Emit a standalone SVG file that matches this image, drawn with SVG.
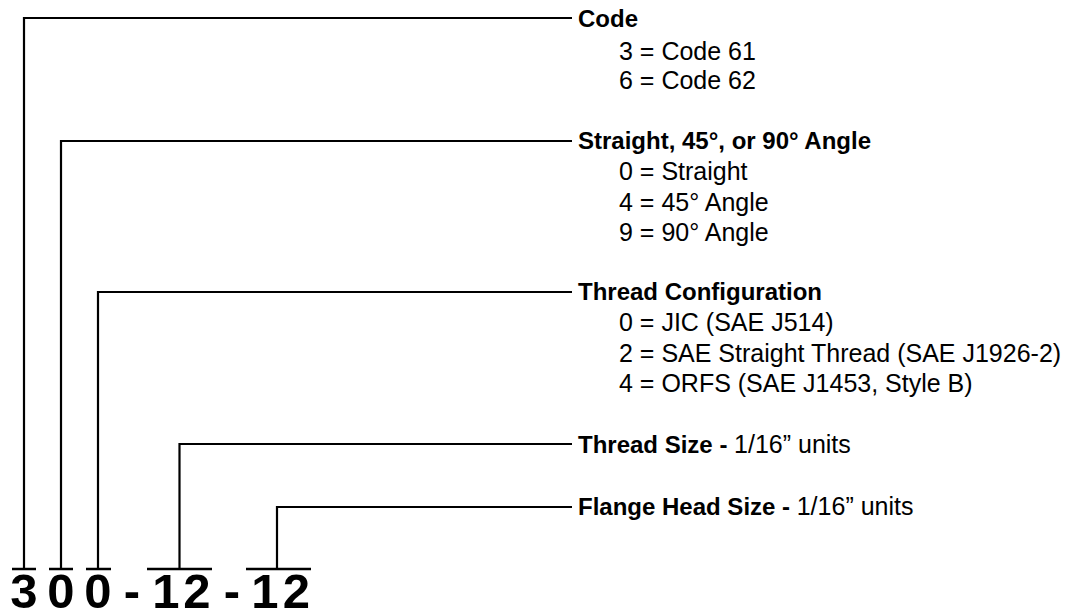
<svg xmlns="http://www.w3.org/2000/svg" width="1072" height="612" viewBox="0 0 1072 612">
<style>
.t{font-family:"Liberation Sans",Arial,sans-serif;font-size:25px;fill:#000}
.b{font-weight:bold;font-size:24px}
.d{font-family:"Liberation Sans",Arial,sans-serif;font-size:49px;font-weight:bold;fill:#000;text-anchor:middle}
.c{fill:none;stroke:#000;stroke-width:2.2}
.o{stroke:#000;stroke-width:2.5}
</style>
<rect width="1072" height="612" fill="#fff"/>
<g id="connectors">
<polyline class="c" points="24,569 24,18 572,18"/>
<polyline class="c" points="61,569 61,141 572,141"/>
<polyline class="c" points="98,569 98,292 572,292"/>
<polyline class="c" points="179.5,569 179.5,444 572,444"/>
<polyline class="c" points="277,569 277,507 572,507"/>
</g>
<g id="code">
<text class="t b" x="578" y="27">Code</text>
<text class="t" x="619" y="60">3 = Code 61</text>
<text class="t" x="619" y="89">6 = Code 62</text>
</g>
<g id="angle">
<text class="t b" x="578" y="149">Straight, 45°, or 90° Angle</text>
<text class="t" x="619" y="180">0 = Straight</text>
<text class="t" x="619" y="211">4 = 45° Angle</text>
<text class="t" x="619" y="241">9 = 90° Angle</text>
</g>
<g id="thread-config">
<text class="t b" x="578" y="300">Thread Configuration</text>
<text class="t" x="619" y="331">0 = JIC (SAE J514)</text>
<text class="t" x="619" y="362">2 = SAE Straight Thread (SAE J1926-2)</text>
<text class="t" x="619" y="392">4 = ORFS (SAE J1453, Style B)</text>
</g>
<g id="thread-size">
<text class="t" x="578" y="453"><tspan class="b">Thread Size - </tspan>1/16” units</text>
</g>
<g id="flange-size">
<text class="t" x="578" y="515"><tspan class="b">Flange Head Size - </tspan>1/16” units</text>
</g>
<g id="part-number">
<line class="o" x1="12" y1="569" x2="36" y2="569"/>
<line class="o" x1="49" y1="569" x2="73" y2="569"/>
<line class="o" x1="86" y1="569" x2="111" y2="569"/>
<line class="o" x1="147" y1="569" x2="212" y2="569"/>
<line class="o" x1="246" y1="569" x2="311" y2="569"/>
<text class="d" x="24" y="608">3</text>
<text class="d" x="61" y="608">0</text>
<text class="d" x="98" y="608">0</text>
<text class="d" x="132" y="608">-</text>
<text class="d" x="166" y="608">1</text>
<text class="d" x="197" y="608">2</text>
<text class="d" x="232" y="608">-</text>
<text class="d" x="265" y="608">1</text>
<text class="d" x="296.5" y="608">2</text>
</g>
</svg>
